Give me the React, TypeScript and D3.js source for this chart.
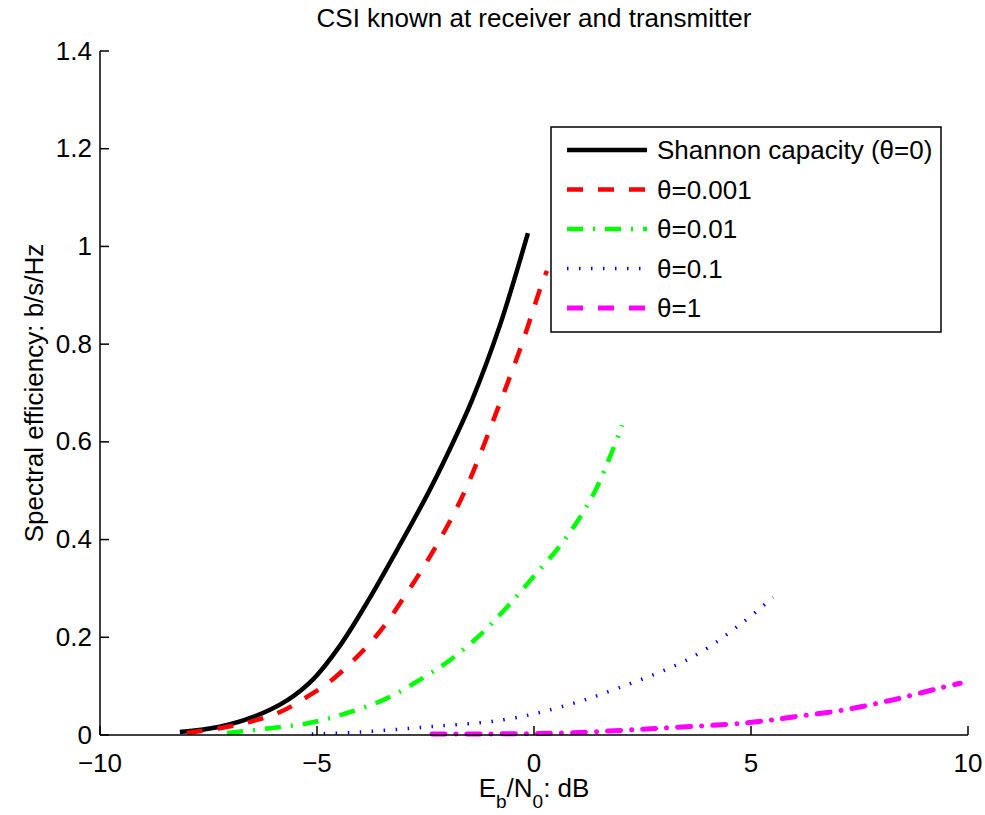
import React from "react";
import * as d3 from "d3";

// Eb/N0 (dB) and spectral efficiency (b/s/Hz)
const shannonEb = [-8.16, -7.24, -6.47, -5.69, -5.09, -4.47, -3.8, -3.16, -2.47, -1.94, -1.43, -0.78, -0.14];
const shannonSE = [0.006, 0.017, 0.037, 0.071, 0.114, 0.183, 0.278, 0.378, 0.49, 0.585, 0.685, 0.84, 1.027];

const theta001Eb = [-8.0, -7.24, -6.54, -5.85, -5.16, -4.65, -3.66, -2.86, -2.17, -1.59, -0.74, -0.28, 0.21, 0.3];
const theta001SE = [0.004, 0.014, 0.027, 0.047, 0.082, 0.113, 0.2, 0.3, 0.4, 0.5, 0.69, 0.8, 0.931, 0.95];

const theta01Eb = [-7.07, -6.08, -5.16, -4.31, -3.39, -2.56, -1.94, -1.24, -0.62, -0.05, 0.71, 1.41, 2.03];
const theta01SE = [0.004, 0.014, 0.025, 0.045, 0.075, 0.117, 0.153, 0.205, 0.262, 0.32, 0.4, 0.5, 0.634];

const theta1Eb = [-5.12, -4.01, -2.4, -0.71, 0.6, 1.94, 3.66, 4.82, 5.51];
const theta1SE = [0.002, 0.006, 0.017, 0.031, 0.057, 0.096, 0.16, 0.231, 0.282];

const thetaOneEb = [-2.35, 0.6, 2.9, 4.91, 5.97, 7.12, 8.27, 9.35, 9.82];
const thetaOneSE = [0.002, 0.004, 0.014, 0.025, 0.037, 0.051, 0.072, 0.096, 0.106];

const xTicks = [-10, -5, 0, 5, 10];
const yTicks = [0, 0.2, 0.4, 0.6, 0.8, 1, 1.2, 1.4];

const series = [
  { name: "Shannon capacity (θ=0)", xs: shannonEb, ys: shannonSE, color: "#000000", width: 4.5, dash: "none", cap: "butt" },
  { name: "θ=0.001", xs: theta001Eb, ys: theta001SE, color: "#ff0000", width: 4.5, dash: "16,15", cap: "butt" },
  { name: "θ=0.01", xs: theta01Eb, ys: theta01SE, color: "#00ff00", width: 4.5, dash: "16,10,2,10", cap: "butt" },
  { name: "θ=0.1", xs: theta1Eb, ys: theta1SE, color: "#0000ff", width: 3.5, dash: "1.5,10.5", cap: "butt" },
  { name: "θ=1", xs: thetaOneEb, ys: thetaOneSE, color: "#ff00ff", width: 5, dash: "13,11,0.1,11", cap: "round" },
];

const font = "'Liberation Sans', Arial, Helvetica, sans-serif";

export default function App() {
  const width = 985,
    height = 815;
  const x = d3.scaleLinear().domain([-10, 10]).range([100, 968]);
  const y = d3.scaleLinear().domain([0, 1.4]).range([735, 51]);

  const line = d3
    .line<[number, number]>()
    .x((d) => x(d[0]))
    .y((d) => y(d[1]))
    .curve(d3.curveCatmullRom.alpha(0.5));

  const fmt = (v: number) => (v < 0 ? "\u2212" + Math.abs(v) : String(v));

  const legX = 551,
    legY = 127,
    rowH = 39.5;

  return (
    <svg
      width={width}
      height={height}
      style={{ position: "absolute", left: 0, top: 0, background: "#fff" }}
      fontFamily={font}
    >
      <rect width={width} height={height} fill="#fff" />

      {series.map((s) => (
        <path
          key={s.name}
          d={line(s.xs.map((v, i) => [v, s.ys[i]] as [number, number])) || ""}
          fill="none"
          stroke={s.color}
          strokeWidth={s.width}
          strokeDasharray={s.dash}
          strokeLinecap={s.cap as any}
        />
      ))}

      {/* axes */}
      <line x1={x(-10)} x2={x(10)} y1={y(0)} y2={y(0)} stroke="#000" strokeWidth={1.5} />
      <line x1={x(-10)} x2={x(-10)} y1={y(0)} y2={y(1.4)} stroke="#000" strokeWidth={1.5} />
      {xTicks.map((t) => (
        <g key={"x" + t}>
          <line x1={x(t)} x2={x(t)} y1={y(0)} y2={y(0) - 9} stroke="#000" strokeWidth={1.5} />
          <text x={x(t)} y={772} fontSize={26} textAnchor="middle">
            {fmt(t)}
          </text>
        </g>
      ))}
      {yTicks.map((t) => (
        <g key={"y" + t}>
          <line x1={x(-10)} x2={x(-10) + 9} y1={y(t)} y2={y(t)} stroke="#000" strokeWidth={1.5} />
          <text x={92} y={y(t)} dy="0.33em" fontSize={26} textAnchor="end">
            {t}
          </text>
        </g>
      ))}

      <text x={534} y={27} fontSize={26} textAnchor="middle">
        CSI known at receiver and transmitter
      </text>
      <text x={534} y={797} fontSize={26} textAnchor="middle">
        E<tspan baselineShift="sub" fontSize={19}>b</tspan>/N
        <tspan baselineShift="sub" fontSize={19}>0</tspan>: dB
      </text>
      <text transform="translate(43,393) rotate(-90)" fontSize={26} textAnchor="middle">
        Spectral efficiency: b/s/Hz
      </text>

      {/* legend */}
      <rect x={legX} y={legY} width={390} height={205} fill="#fff" stroke="#000" strokeWidth={1.5} />
      {series.map((s, i) => {
        const ry = legY + 23 + i * rowH;
        return (
          <g key={"l" + s.name}>
            <line
              x1={567}
              x2={647}
              y1={ry}
              y2={ry}
              stroke={s.color}
              strokeWidth={s.width}
              strokeDasharray={i === 4 ? "16,15" : s.dash}
              strokeLinecap="butt"
            />
            <text x={657} y={ry} dy="0.35em" fontSize={26}>
              {s.name}
            </text>
          </g>
        );
      })}
    </svg>
  );
}
